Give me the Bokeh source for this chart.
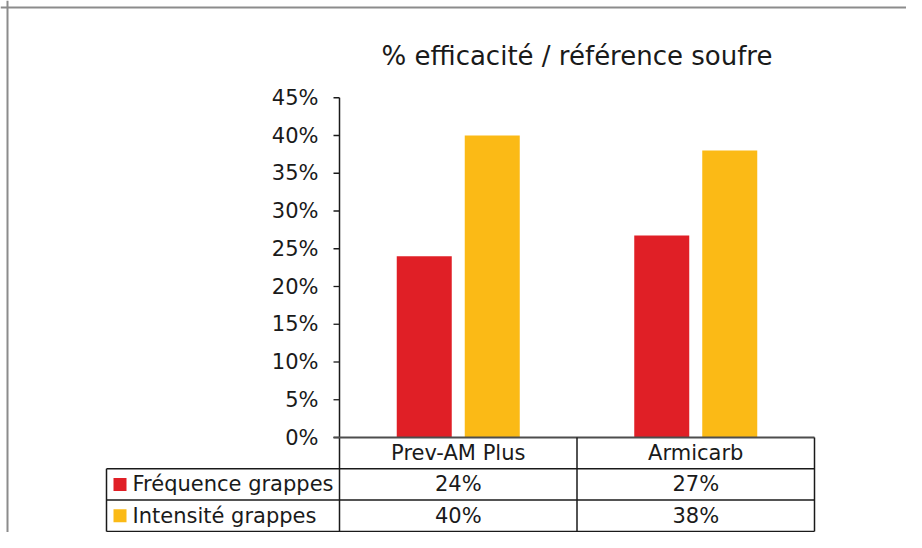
from bokeh.plotting import figure
from bokeh.models import Span, ColumnDataSource
from bokeh.core.properties import value
from bokeh.embed import file_html
from bokeh.resources import INLINE

# ---------------- data ----------------
title_text = "% efficacité / référence soufre"
categories = ["Prev-AM Plus", "Armicarb"]
series_names = ["Fréquence grappes", "Intensité grappes"]
frequence = [0.24, 0.2675]
intensite = [0.40, 0.38]
tick_values = [0.00, 0.05, 0.10, 0.15, 0.20, 0.25, 0.30, 0.35, 0.40, 0.45]
tick_labels = ["0%", "5%", "10%", "15%", "20%", "25%", "30%", "35%", "40%", "45%"]
colors = ["#e01f26", "#fbba16"]

# ---------------- layout (pixels) ----------------
W, H = 906, 532
axis_px = 339.0      # x of the value axis inside the canvas
cat_px = 237.5       # width of one category column
zero_px = 437.0      # y (from top) of the 0% line
unit_px = 755.0      # pixels for 100 %
row_px = 31.3        # table row height
legend_px = 106.0    # left edge of the legend cells
frame_px = 7.0       # outer chart-area border

x0 = -axis_px / cat_px
x1 = x0 + W / cat_px
y1 = zero_px / unit_px
y0 = y1 - H / unit_px

FONT = value("DejaVu Sans")
TXT = "#1a1a1a"
LINE = "#1a1a1a"

p = figure(width=W, height=H, x_range=(x0, x1), y_range=(y0, y1),
           output_backend="svg", toolbar_location=None,
           x_axis_type=None, y_axis_type=None, min_border=0)
p.outline_line_color = None
p.background_fill_color = "white"
p.border_fill_color = "white"

n = len(categories)
series = [frequence, intensite]
bar_w = 55.0 / cat_px
off = 34.0 / cat_px
offsets = [-off, off]

# bars
for vals, col, o, name in zip(series, colors, offsets, series_names):
    src = ColumnDataSource(dict(x=[i + 0.5 + o for i in range(n)], top=vals))
    p.vbar(x="x", top="top", bottom=0, width=bar_w, source=src,
           fill_color=col, line_color=None)

# value axis (ticks, labels, line)
tick_len = 6.0 / cat_px
p.segment(x0=[-tick_len] * len(tick_values), y0=tick_values,
          x1=[0] * len(tick_values), y1=tick_values,
          line_color=LINE, line_width=1.3)
p.text(x=[-21.0 / cat_px] * len(tick_values), y=tick_values, text=tick_labels,
       text_align="right", text_baseline="middle", text_font=FONT,
       text_font_size=value("21px"), text_color=TXT)

h = row_px / unit_px
nrows = len(series) + 1
bottom = -nrows * h
leg_x = -(axis_px - legend_px) / cat_px

# axis line (continues down as table border)
p.segment(x0=[0], y0=[tick_values[-1]], x1=[0], y1=[bottom],
          line_color=LINE, line_width=1.5)
# zero line
p.segment(x0=[-tick_len], y0=[0], x1=[n], y1=[0],
          line_color="#4d4d4d", line_width=2)

# table horizontal lines
hy = [-(k + 1) * h for k in range(nrows)]
p.segment(x0=[leg_x] * len(hy), y0=hy, x1=[n] * len(hy), y1=hy,
          line_color=LINE, line_width=1.5)
# table vertical lines
vx = [i + 1 for i in range(n)]
p.segment(x0=vx, y0=[0] * n, x1=vx, y1=[bottom] * n,
          line_color=LINE, line_width=1.5)
p.segment(x0=[leg_x], y0=[-h], x1=[leg_x], y1=[bottom],
          line_color=LINE, line_width=1.5)

# header row: categories
p.text(x=[i + 0.5 for i in range(n)], y=[-0.5 * h] * n, text=categories,
       text_align="center", text_baseline="middle", text_font=FONT,
       text_font_size=value("21px"), text_color=TXT)

# data rows
for r, (vals, col, name) in enumerate(zip(series, colors, series_names)):
    yc = -(r + 1.5) * h
    p.text(x=[i + 0.5 for i in range(n)], y=[yc] * n,
           text=[f"{round(v * 100):.0f}%" for v in vals],
           text_align="center", text_baseline="middle", text_font=FONT,
           text_font_size=value("21px"), text_color=TXT)
    p.scatter(x=[leg_x + 13.5 / cat_px], y=[yc], marker="square", size=13,
              fill_color=col, line_color=None)
    p.text(x=[leg_x + 26.0 / cat_px], y=[yc], text=[name],
           text_align="left", text_baseline="middle", text_font=FONT,
           text_font_size=value("21px"), text_color=TXT)

# chart title
p.text(x=[n / 2], y=[(zero_px - 55.0) / unit_px], text=[title_text],
       text_align="center", text_baseline="middle", text_font=FONT,
       text_font_size=value("26px"), text_color=TXT)

# chart-area border (top and left edges)
p.add_layout(Span(location=(zero_px - frame_px) / unit_px, dimension="width",
                  line_color="#8c8c8c", line_width=2))
p.add_layout(Span(location=(frame_px - axis_px) / cat_px, dimension="height",
                  line_color="#8c8c8c", line_width=2))

open("out.html", "w").write(file_html(p, INLINE))
